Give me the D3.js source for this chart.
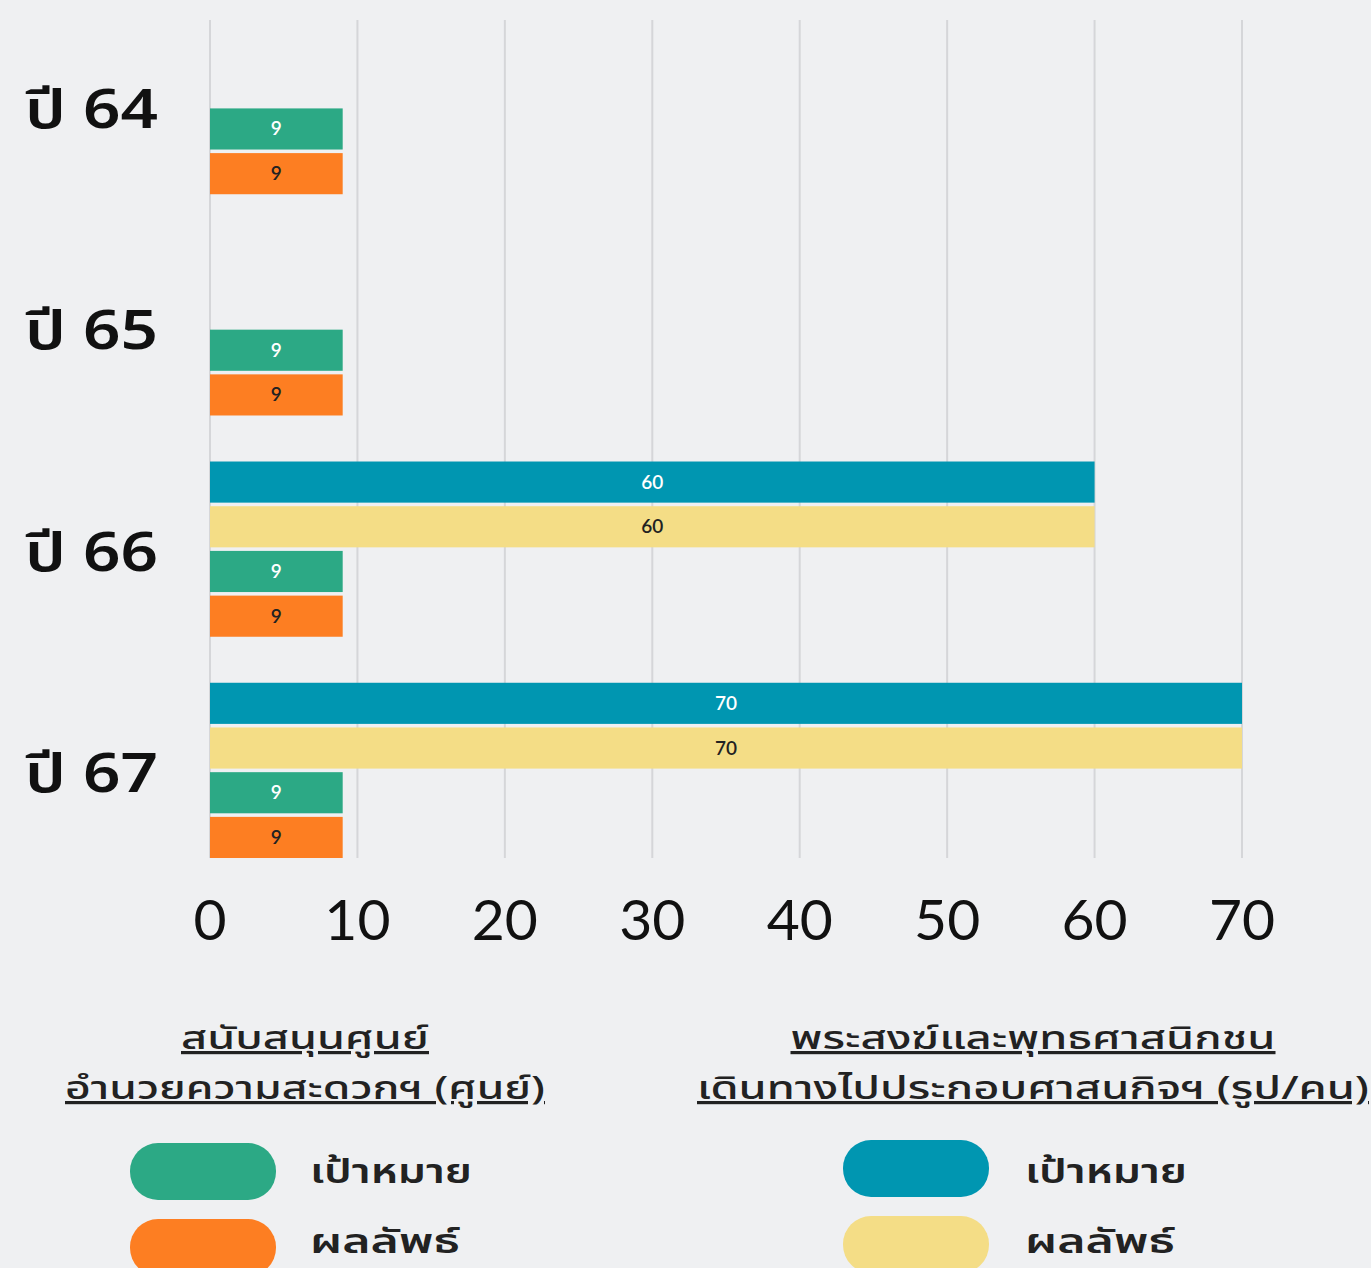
<!DOCTYPE html>
<html><head><meta charset="utf-8">
<script src="https://cdn.jsdelivr.net/npm/d3@7"></script>
<style>
html,body{margin:0;padding:0;background:#eff0f2;}
svg{display:block;}
</style></head>
<body>
<svg id="chart" width="1371" height="1268"></svg>
<script>
const years = ["ปี 64", "ปี 65", "ปี 66", "ปี 67"];
const seriesNames = ["monkTarget", "monkResult", "centerTarget", "centerResult"];
const monkTarget = [null, null, 60, 70];
const monkResult = [null, null, 60, 70];
const centerTarget = [9, 9, 9, 9];
const centerResult = [9, 9, 9, 9];
const xTicks = [0, 10, 20, 30, 40, 50, 60, 70];
const seriesColors = ["#0096b1", "#f4dd86", "#2ca985", "#fd7e22"];
const labelColors = ["#ffffff", "#222222", "#ffffff", "#222222"];
const legendGroups = [
  {title: ["สนับสนุนศูนย์", "อำนวยความสะดวกฯ (ศูนย์)"], items: ["เป้าหมาย", "ผลลัพธ์"], colors: ["#2ca985", "#fd7e22"]},
  {title: ["พระสงฆ์และพุทธศาสนิกชน", "เดินทางไปประกอบศาสนกิจฯ (รูป/คน)"], items: ["เป้าหมาย", "ผลลัพธ์"], colors: ["#0096b1", "#f4dd86"]}
];

const values = [monkTarget, monkResult, centerTarget, centerResult];
const svg = d3.select("#chart");
const thaiFont = "'Noto Sans Thai','Noto Sans','Lato',sans-serif";

const x = d3.scaleLinear().domain([0, 70]).range([210, 1242]);
const y = d3.scaleBand().domain(years).range([19, 858]).paddingInner(0.208).paddingOuter(0);
const yi = d3.scaleBand().domain(d3.range(4)).range([0, y.bandwidth()]).paddingInner(0.08);

// grid
svg.append("g").selectAll("line").data(xTicks).join("line")
  .attr("x1", d => x(d)).attr("x2", d => x(d))
  .attr("y1", 20).attr("y2", 858)
  .attr("stroke", "#d5d6d9").attr("stroke-width", 2);

// bars
const groups = svg.append("g").selectAll("g").data(years).join("g")
  .attr("transform", d => `translate(0,${y(d)})`);
groups.each(function(yr, i) {
  const g = d3.select(this);
  values.forEach((arr, s) => {
    const v = arr[i];
    if (v == null) return;
    g.append("rect")
      .attr("x", x(0)).attr("y", yi(s))
      .attr("width", x(v) - x(0)).attr("height", yi.bandwidth())
      .attr("fill", seriesColors[s]);
    g.append("text")
      .attr("x", (x(0) + x(v)) / 2).attr("y", yi(s) + yi.bandwidth() / 2 - 1)
      .attr("text-anchor", "middle").attr("dominant-baseline", "central")
      .attr("font-family", "Lato, sans-serif").attr("font-size", 19).attr("font-weight", 600)
      .attr("fill", labelColors[s]).text(v);
  });
});

// y labels
svg.append("g").selectAll("text").data(years).join("text")
  .attr("x", 158).attr("y", d => y(d) + y.bandwidth() / 2 + 5)
  .attr("text-anchor", "end").attr("dominant-baseline", "central")
  .attr("font-family", thaiFont).attr("font-size", 54).attr("font-weight", 600)
  .attr("textLength", 133).attr("lengthAdjust", "spacingAndGlyphs")
  .attr("fill", "#111").text(d => d);

// x tick labels
svg.append("g").selectAll("text").data(xTicks).join("text")
  .attr("x", d => x(d)).attr("y", 918)
  .attr("text-anchor", "middle").attr("dominant-baseline", "central")
  .attr("font-family", "Lato, sans-serif").attr("font-size", 57)
  .attr("fill", "#111").text(d => d);

// legend
const legendCenters = [305, 1033];
const titleWidths = [[248, 480], [485, 672]];
const swatchX = [130, 843];
const swatchY = [1143, 1140];
const textX = [310, 1025];
const itemWidths = [162, 150];
legendGroups.forEach((lg, gi) => {
  const g = svg.append("g");
  lg.title.forEach((t, ti) => {
    g.append("text").attr("x", legendCenters[gi]).attr("y", 1049 + ti * 50)
      .attr("text-anchor", "middle").attr("font-family", thaiFont)
      .attr("font-size", 32).attr("font-weight", 500).attr("fill", "#222")
      .attr("textLength", titleWidths[gi][ti]).attr("lengthAdjust", "spacingAndGlyphs")
      .attr("text-decoration", "underline").text(t);
  });
  lg.items.forEach((it, ii) => {
    const top = swatchY[gi] + ii * 76;
    g.append("rect").attr("x", swatchX[gi]).attr("y", top).attr("width", 146).attr("height", 57)
      .attr("rx", 28).attr("fill", lg.colors[ii]);
    g.append("text").attr("x", textX[gi]).attr("y", 1172 + ii * 70)
      .attr("dominant-baseline", "central").attr("font-family", thaiFont)
      .attr("font-size", 34).attr("font-weight", 600).attr("fill", "#222")
      .attr("textLength", itemWidths[ii]).attr("lengthAdjust", "spacingAndGlyphs")
      .text(it);
  });
});
</script>
</body></html>
